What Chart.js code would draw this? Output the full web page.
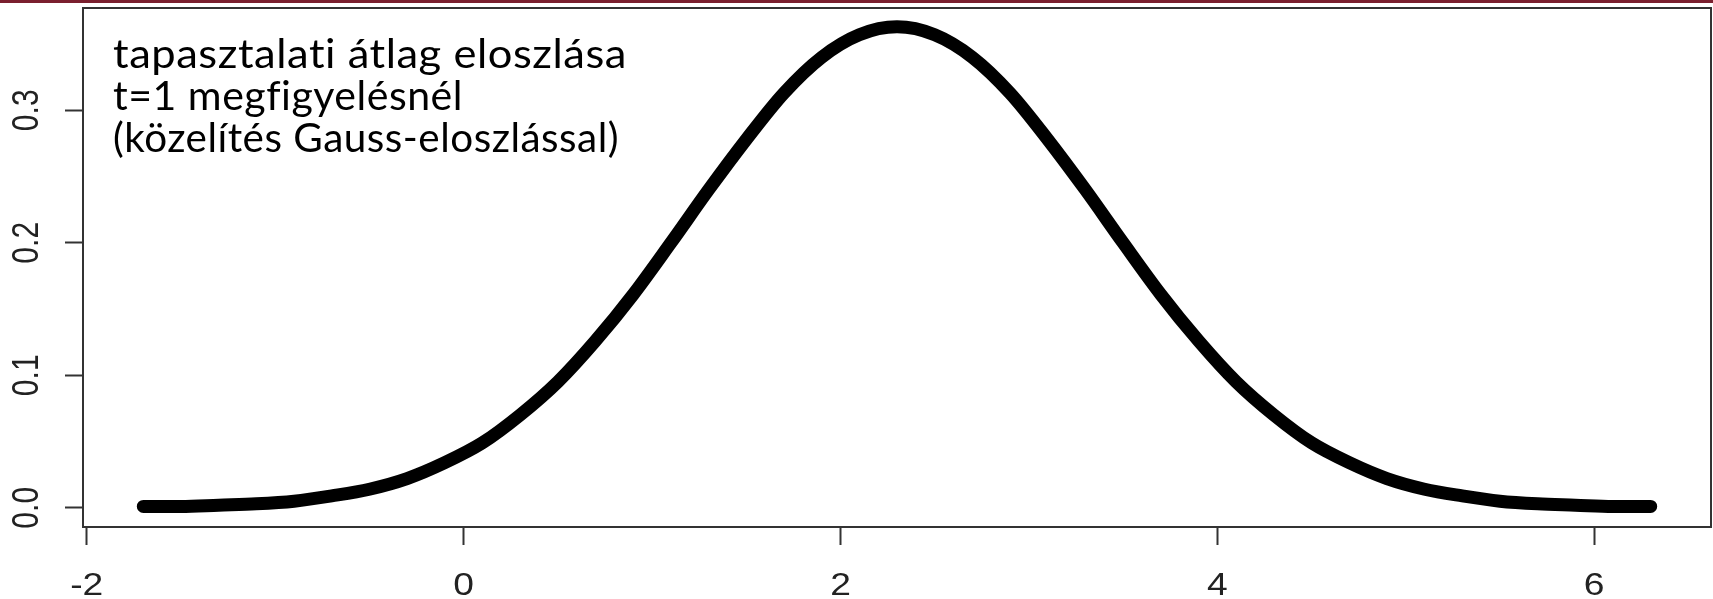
<!DOCTYPE html>
<html>
<head>
<meta charset="utf-8">
<title>tapasztalati átlag eloszlása</title>
<script src="https://cdn.jsdelivr.net/npm/chart.js@4/dist/chart.umd.min.js"></script>
<style>
  html, body { margin: 0; padding: 0; background: #fff; }
  #wrap { position: relative; width: 1713px; height: 599px; }
  #topbar { position: absolute; left: 0; top: 0; width: 1713px; height: 3px; background: #7a1f2e; }
</style>
</head>
<body>
<div id="wrap">
  <canvas id="densityChart" width="1713" height="599"></canvas>
  <div id="topbar"></div>
</div>
<script>
// values
const xValues = [
  -1.7, -1.5, -1.3, -1.1, -0.9, -0.7, -0.5, -0.3, -0.1, 0.1,
  0.3, 0.5, 0.7, 0.9, 1.1, 1.3, 1.5, 1.7, 1.9, 2.1,
  2.3, 2.5, 2.7, 2.9, 3.1, 3.3, 3.5, 3.7, 3.9, 4.1,
  4.3, 4.5, 4.7, 4.9, 5.1, 5.3, 5.5, 5.7, 5.9, 6.1, 6.3
];
const densityValues = [
  0.001, 0.001, 0.002, 0.003, 0.005, 0.009, 0.014, 0.022, 0.034, 0.049,
  0.070, 0.095, 0.126, 0.161, 0.200, 0.240, 0.278, 0.313, 0.340, 0.357,
  0.363, 0.357, 0.340, 0.313, 0.278, 0.240, 0.200, 0.161, 0.126, 0.095,
  0.070, 0.049, 0.034, 0.022, 0.014, 0.009, 0.005, 0.003, 0.002, 0.001, 0.001
];
const xTicks = [-2, 0, 2, 4, 6];
const xTickLabels = ["-2", "0", "2", "4", "6"];
const yTicks = [0, 0.1, 0.2, 0.3];
const yTickLabels = ["0.0", "0.1", "0.2", "0.3"];
const noteLines = [
  "tapasztalati átlag eloszlása",
  "t=1 megfigyelésnél",
  "(közelítés Gauss-eloszlással)"
];
// widths the note lines take in the reference (px)
const noteWidths = [514, 350, 506];

// R-style box, stretched tick labels and the text note
const framePlugin = {
  id: "frame",
  afterDraw: (chart) => {
    const { ctx, chartArea: a, scales } = chart;
    ctx.save();
    ctx.strokeStyle = "#333";
    ctx.lineWidth = 2;
    ctx.strokeRect(a.left, a.top, a.right - a.left, a.bottom - a.top);

    ctx.fillStyle = "#222";
    ctx.font = '30px "Liberation Sans", Arial, sans-serif';
    ctx.textAlign = "center";
    ctx.textBaseline = "middle";
    yTicks.forEach((v, i) => {
      const y = scales.y.getPixelForValue(v);
      ctx.save();
      ctx.translate(28, y);
      ctx.scale(1.2, 1);
      ctx.rotate(-Math.PI / 2);
      ctx.fillText(yTickLabels[i], 0, 0);
      ctx.restore();
    });

    ctx.font = '31px "Liberation Sans", Arial, sans-serif';
    ctx.textBaseline = "alphabetic";
    xTicks.forEach((v, i) => {
      const x = scales.x.getPixelForValue(v);
      ctx.save();
      ctx.translate(x, 595);
      ctx.scale(1.2, 1);
      ctx.fillText(xTickLabels[i], 0, 0);
      ctx.restore();
    });

    // note text: no ligatures, squeezed to the reference widths
    ctx.font = '40px Lato, "Open Sans", sans-serif';
    ctx.letterSpacing = "0.5px";
    ctx.fillStyle = "#000";
    ctx.textAlign = "left";
    noteLines.forEach((t, i) => {
      const sx = noteWidths[i] / ctx.measureText(t).width;
      ctx.save();
      ctx.translate(113, 68 + i * 42);
      ctx.scale(sx, 1);
      ctx.fillText(t, 0, 0);
      ctx.restore();
    });
    ctx.restore();
  },
};

const ctx = document.getElementById("densityChart").getContext("2d");
new Chart(ctx, {
  type: "line",
  data: {
    datasets: [
      {
        data: xValues.map((x, i) => ({ x: x, y: densityValues[i] })),
        borderColor: "#000",
        borderWidth: 13,
        pointRadius: 0,
        borderCapStyle: "round",
        borderJoinStyle: "round",
        cubicInterpolationMode: "monotone",
        fill: false,
      },
    ],
  },
  options: {
    responsive: false,
    animation: false,
    events: [],
    layout: { padding: { top: 8, right: 2, left: 0, bottom: 0 } },
    plugins: { legend: { display: false }, tooltip: { enabled: false } },
    scales: {
      x: {
        type: "linear",
        min: -2.02,
        max: 6.62,
        afterBuildTicks: (s) => { s.ticks = xTicks.map((v) => ({ value: v })); },
        afterFit: (s) => { s.height = 72; },
        grid: { drawOnChartArea: false, drawTicks: true, tickLength: 18, tickWidth: 2, tickColor: "#333" },
        border: { display: false },
        ticks: { display: false },
      },
      y: {
        type: "linear",
        min: -0.0145,
        max: 0.3772,
        afterBuildTicks: (s) => { s.ticks = yTicks.map((v) => ({ value: v })); },
        afterFit: (s) => { s.width = 83; },
        grid: { drawOnChartArea: false, drawTicks: true, tickLength: 18, tickWidth: 2, tickColor: "#333" },
        border: { display: false },
        ticks: { display: false },
      },
    },
  },
  plugins: [framePlugin],
});
</script>
</body>
</html>
